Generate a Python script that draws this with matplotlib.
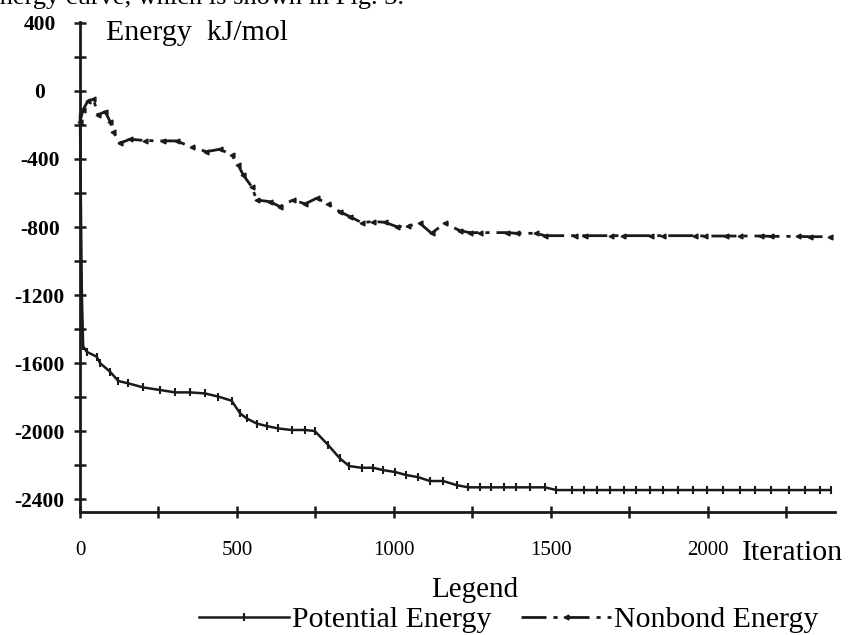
import matplotlib
import matplotlib.pyplot as plt
from matplotlib.ticker import FixedLocator, FixedFormatter

matplotlib.use("Agg")

plt.rcParams["font.family"] = ["Liberation Serif", "DejaVu Serif"]

# Potential energy (kJ/mol) vs iteration
pot_iter = [0, 3, 6, 10, 21, 53, 64, 96, 122, 154, 202, 255, 303, 350, 398,
            441, 483, 510, 531, 563, 595, 632, 674, 717, 748, 791, 828, 858,
            897, 934, 966, 1004, 1040, 1077, 1115, 1157, 1200, 1237, 1274,
            1311, 1350, 1389, 1435, 1481, 1518, 1568, 1605, 1648, 1688, 1733,
            1773, 1817, 1858, 1905, 1953, 1998, 2049, 2104, 2150, 2203, 2259,
            2309, 2357, 2392]
pot_val = [-150, -700, -1200, -1500, -1533, -1562, -1600, -1651, -1705, -1719,
           -1743, -1758, -1772, -1772, -1778, -1797, -1821, -1895, -1925,
           -1955, -1970, -1984, -1993, -1993, -1999, -2082, -2160, -2205,
           -2215, -2215, -2229, -2240, -2258, -2270, -2293, -2293, -2317,
           -2330, -2330, -2330, -2330, -2330, -2330, -2330, -2346, -2346,
           -2346, -2346, -2346, -2346, -2346, -2346, -2346, -2346, -2346,
           -2346, -2346, -2346, -2346, -2346, -2346, -2346, -2346, -2346]

# Nonbond energy (kJ/mol) vs iteration
nb_iter = [0, 10, 25, 42, 58, 80, 96, 106, 127, 159, 207, 265, 308, 356, 403,
           446, 483, 504, 520, 547, 563, 605, 637, 679, 717, 754, 791, 828,
           860, 897, 934, 971, 1009, 1046, 1083, 1120, 1162, 1210, 1242, 1274,
           1359, 1391, 1454, 1481, 1577, 1608, 1693, 1730, 1820, 1857, 1959,
           1990, 2059, 2102, 2171, 2203, 2288, 2325, 2389]
nb_val = [-180, -110, -60, -45, -141, -122, -180, -240, -308, -284, -292, -294,
          -294, -331, -357, -343, -376, -435, -494, -563, -641, -651, -680,
          -641, -664, -631, -664, -710, -739, -774, -768, -772, -798, -794,
          -778, -837, -778, -821, -833, -833, -833, -837, -837, -851, -851,
          -851, -851, -851, -851, -851, -851, -853, -853, -853, -853, -855,
          -855, -857, -857]

x_ticks = [0, 250, 500, 750, 1000, 1250, 1500, 1750, 2000, 2250]
x_tick_labels = ["0", "", "500", "", "1000", "", "1500", "", "2000", ""]
y_ticks = [400, 200, 0, -200, -400, -600, -800, -1000, -1200, -1400, -1600,
           -1800, -2000, -2200, -2400]
y_tick_labels = ["400", "", "0", "", "-400", "", "-800", "", "-1200", "",
                 "-1600", "", "-2000", "", "-2400"]

fig = plt.figure(figsize=(8.51, 6.35), dpi=100)
ax = fig.add_axes([0.094, 0.1937, 0.887, 0.7717])

pot_line, = ax.plot(pot_iter, pot_val, color="#1a1a1a", lw=1.8, marker="|",
                    ms=6, mew=1.5, clip_on=False)
nb_line, = ax.plot(nb_iter, nb_val, color="#1a1a1a", lw=2.0,
                   dashes=(9, 2.5, 1.5, 2.5), marker="<", ms=3.5,
                   clip_on=False)

ax.set_xlim(0, 2405)
ax.set_ylim(-2475, 405)

for side in ("top", "right"):
    ax.spines[side].set_visible(False)
for side in ("left", "bottom"):
    ax.spines[side].set_linewidth(2.0)
    ax.spines[side].set_color("#1a1a1a")

ax.xaxis.set_major_locator(FixedLocator(x_ticks))
ax.xaxis.set_major_formatter(FixedFormatter(x_tick_labels))
ax.yaxis.set_major_locator(FixedLocator(y_ticks))
ax.yaxis.set_major_formatter(FixedFormatter(y_tick_labels))

ax.tick_params(axis="both", direction="inout", length=8, width=1.8,
               color="#1a1a1a")
ax.tick_params(axis="x", pad=17, labelsize=15)
ax.tick_params(axis="y", pad=25, labelsize=15.5)
for lab in ax.get_yticklabels():
    lab.set_horizontalalignment("center")
    lab.set_fontweight("bold")

# page text above the figure, cut off by the scan
fig.text(-12 / 851, 0.9937, "energy curve, which is shown in Fig. 3.",
         fontsize=19, va="baseline", ha="left")

fig.text(106 / 851, 0.937, "Energy  kJ/mol", fontsize=21.5, va="baseline")
fig.text(742 / 851, 0.118, "Iteration", fontsize=21.5, va="baseline")
fig.text(0.558, 0.060, "Legend", fontsize=21, va="baseline", ha="center")

ax.legend([pot_line, nb_line], ["Potential Energy", "Nonbond Energy"],
          loc="center", bbox_to_anchor=(0.598, 0.024),
          bbox_transform=fig.transFigure, ncol=2, frameon=False,
          fontsize=21.5, numpoints=1, handlelength=3.0, handletextpad=0.1,
          columnspacing=1.0, borderpad=0)

fig.savefig("out.png", dpi=100)
